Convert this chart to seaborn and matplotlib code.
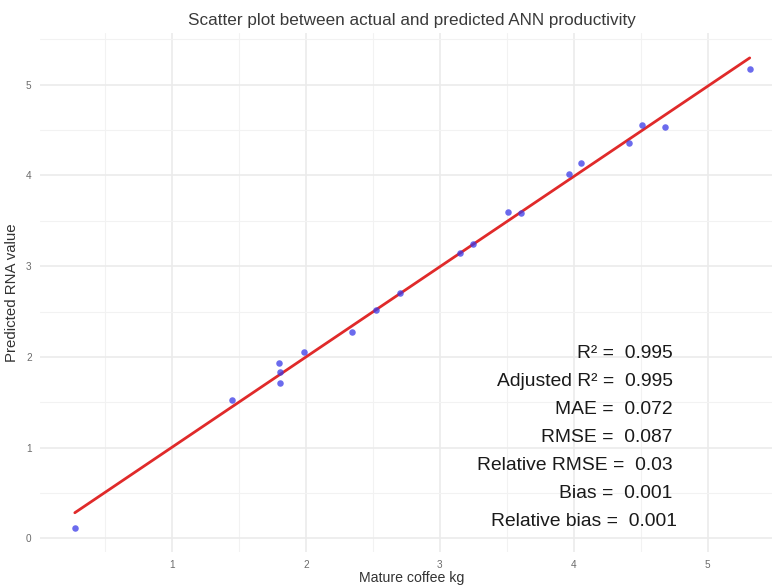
import matplotlib
matplotlib.use("Agg")
import matplotlib.pyplot as plt
from matplotlib.ticker import MultipleLocator
import seaborn as sns
import pandas as pd
import numpy as np

# Data
actual = [0.275, 1.449, 1.800, 1.807, 1.807, 1.987, 2.346, 2.525, 2.705, 3.153,
          3.250, 3.512, 3.609, 3.961, 4.058, 4.409, 4.507, 4.679, 5.314]
predicted = [0.12, 1.523, 1.932, 1.832, 1.711, 2.053, 2.274, 2.517, 2.704, 3.146,
             3.245, 3.598, 3.587, 4.018, 4.139, 4.360, 4.558, 4.536, 5.177]

stat_labels = ["R\u00b2 =  0.995", "Adjusted R\u00b2 =  0.995", "MAE =  0.072",
               "RMSE =  0.087", "Relative RMSE =  0.03", "Bias =  0.001",
               "Relative bias =  0.001"]
x_ticks = [1, 2, 3, 4, 5]
y_ticks = [0, 1, 2, 3, 4, 5]

df = pd.DataFrame({"actual": actual, "predicted": predicted})

sns.set_theme(style="white")
plt.rcParams['font.family'] = ['Liberation Sans', 'DejaVu Sans']

fig = plt.figure(figsize=(7.72, 5.85), dpi=100)
ax = fig.add_axes([40/772, 33/585, 744/772, 519/585])
ax.set_facecolor("white")

sns.regplot(data=df, x="actual", y="predicted", ax=ax, ci=None,
            scatter_kws=dict(color="#3a3ae8", alpha=0.75, s=22, linewidths=0, zorder=3),
            line_kws=dict(color="#e02a2a", lw=2.0, zorder=2))

ax.set_xlim(0.015, 5.57)
ax.set_ylim(-0.15, 5.57)
ax.set_xticks(x_ticks)
ax.set_yticks(y_ticks)
ax.xaxis.set_minor_locator(MultipleLocator(0.5))
ax.yaxis.set_minor_locator(MultipleLocator(0.5))
ax.grid(which="major", color="#EBEBEB", lw=1.2, zorder=0)
ax.grid(which="minor", color="#F2F2F2", lw=0.8, zorder=0)
ax.set_axisbelow(True)
for s in ax.spines.values():
    s.set_visible(False)
ax.tick_params(which="both", length=0, labelsize=7.2, labelcolor="#6b6b6b", pad=6)

ax.set_title("Scatter plot between actual and predicted ANN productivity",
             fontsize=12.3, color="#3a3a3a", pad=6)
ax.set_xlabel("Mature coffee kg", fontsize=10.2, color="#333333", labelpad=0.5)
ax.set_ylabel("Predicted RNA value", fontsize=10.8, color="#333333", labelpad=5)

y0 = 2.04
for i, lab in enumerate(stat_labels):
    xr = 4.74 if i < 6 else 4.77
    ax.text(xr, y0 - i * 0.309, lab, ha="right", va="center", fontsize=13.9,
            color="#1a1a1a")

fig.savefig("out.png", dpi=100)
